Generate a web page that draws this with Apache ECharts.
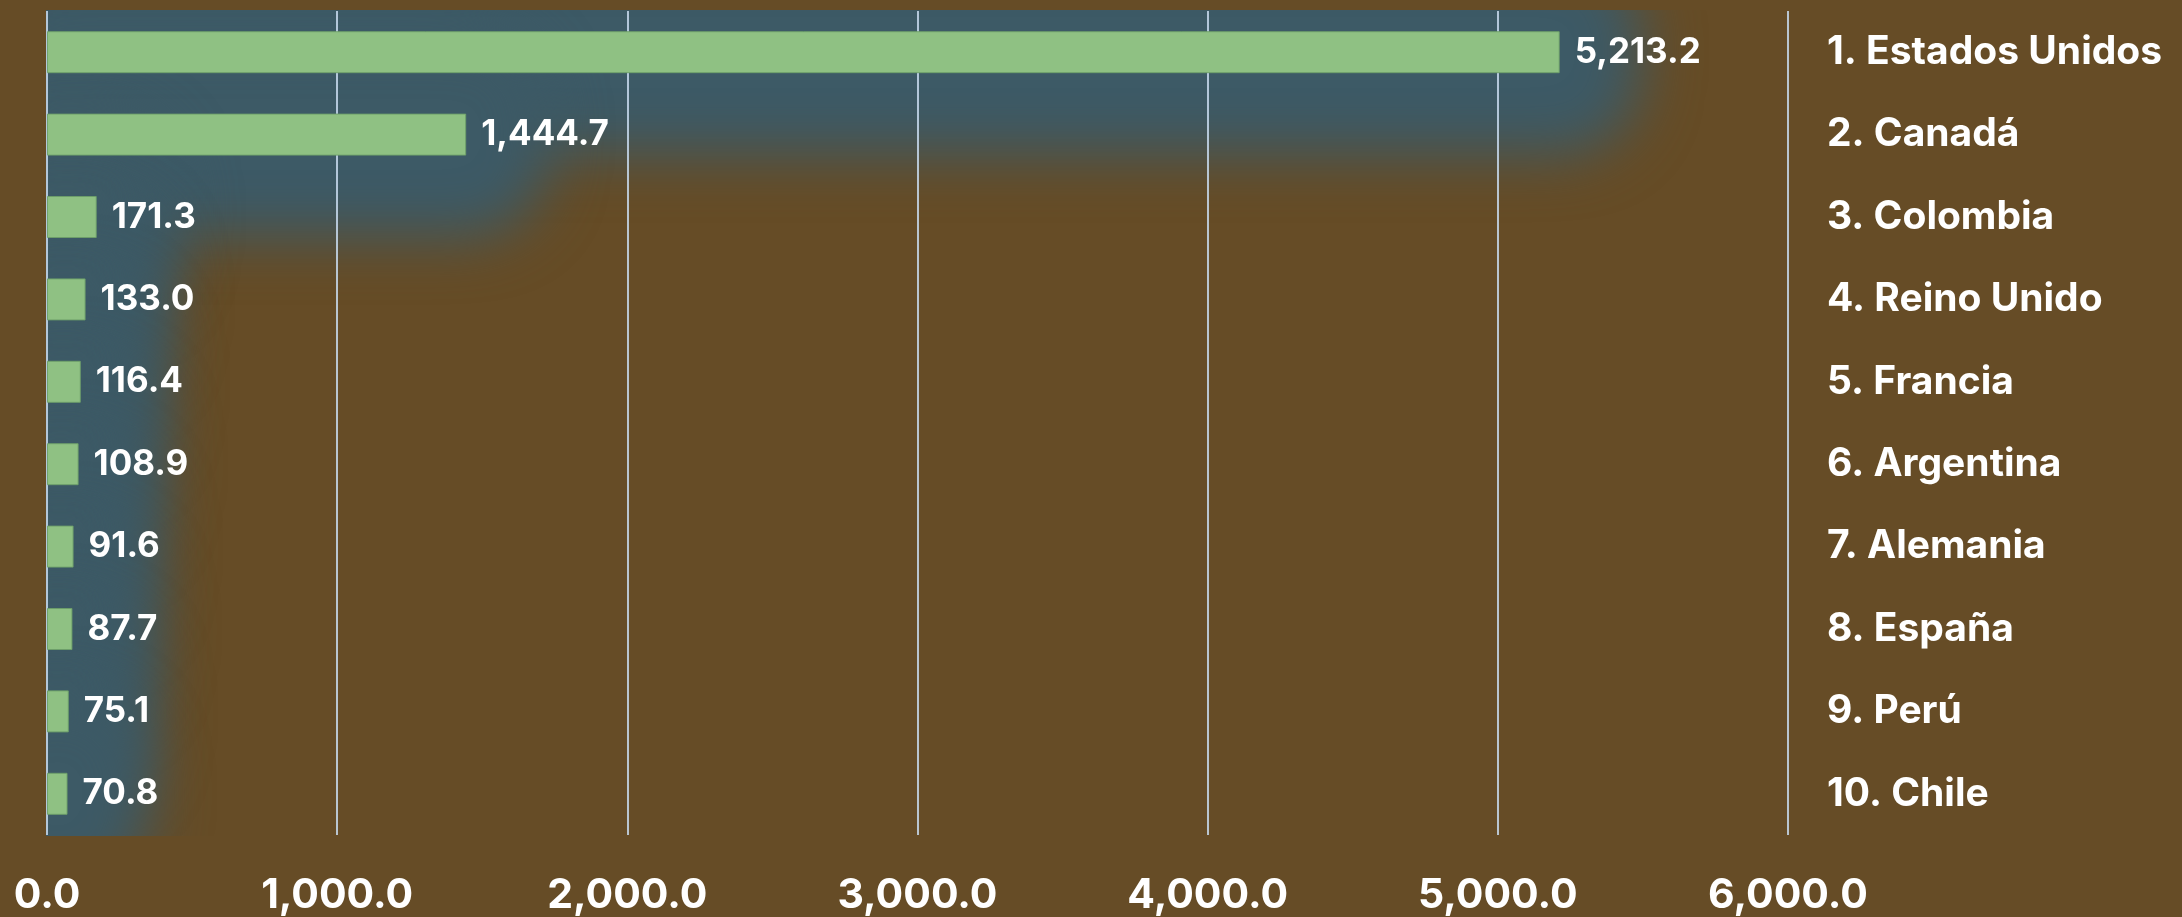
<!DOCTYPE html>
<html>
<head>
<meta charset="utf-8">
<script src="https://cdn.jsdelivr.net/npm/echarts@6/dist/echarts.min.js"></script>
<style>
html,body{margin:0;padding:0;background:#664c26;}
#chart{width:2182px;height:917px;}
</style>
</head>
<body>
<div id="chart"></div>
<script>
const categories = ['1. Estados Unidos','2. Canadá','3. Colombia','4. Reino Unido','5. Francia','6. Argentina','7. Alemania','8. España','9. Perú','10. Chile'];
const values = [5213.2, 1444.7, 171.3, 133.0, 116.4, 108.9, 91.6, 87.7, 75.1, 70.8];
const xTicks = {min: 0, max: 6000, interval: 1000};

const BG = '#664c26';
const GLOW = '#3d5a66';
const BAR = '#8fc183';
const FONT = 'Inter, "Open Sans", "Noto Sans", sans-serif';
const BAR_RATIO = 0.51;

const fmt = v => v.toLocaleString('en-US', {minimumFractionDigits: 1, maximumFractionDigits: 1});

const chart = echarts.init(document.getElementById('chart'));

// soft glow behind each bar, sized from the bar's own scale position
function glowItem(params, api) {
  const cat = api.value(1);
  const start = api.coord([0, cat]);
  const end = api.coord([api.value(0), cat]);
  const band = api.size([0, 1])[1];
  const h = band * BAR_RATIO;
  const PAD = 82, OFF = 5000;
  return {
    type: 'rect',
    shape: {x: start[0] - PAD - OFF, y: start[1] - h / 2 - PAD, width: end[0] - start[0] + 2 * PAD, height: h + 2 * PAD, r: PAD},
    style: {fill: GLOW, shadowBlur: 56, shadowColor: GLOW, shadowOffsetX: OFF}
  };
}

chart.setOption({
  backgroundColor: BG,
  animation: false,
  grid: {left: 47, right: 394, top: 11, bottom: 82, containLabel: false},
  graphic: [
    {type: 'rect', z: 2, silent: true, shape: {x: 0, y: 0, width: 46, height: 917}, style: {fill: BG}},
    {type: 'rect', z: 2, silent: true, shape: {x: 0, y: 0, width: 2182, height: 10}, style: {fill: BG}},
    {type: 'rect', z: 2, silent: true, shape: {x: 0, y: 836, width: 2182, height: 81}, style: {fill: BG}},
    {type: 'rect', z: 2, silent: true, shape: {x: 1790, y: 0, width: 392, height: 917}, style: {fill: BG}}
  ],
  xAxis: {
    type: 'value',
    min: xTicks.min, max: xTicks.max, interval: xTicks.interval,
    z: 3,
    axisLine: {show: false},
    axisTick: {show: false},
    splitLine: {show: true, lineStyle: {color: 'rgba(200,218,238,0.85)', width: 2}},
    axisLabel: {
      color: '#ffffff', fontFamily: FONT, fontWeight: 'bold', fontSize: 41,
      margin: 40,
      formatter: v => fmt(v)
    }
  },
  yAxis: {
    type: 'category',
    data: categories,
    inverse: true,
    position: 'right',
    z: 3,
    axisLine: {show: false},
    axisTick: {show: false},
    splitLine: {show: false},
    axisLabel: {
      color: '#ffffff', fontFamily: FONT, fontWeight: 'bold', fontSize: 39,
      margin: 39, align: 'left'
    }
  },
  series: [
    {
      type: 'custom',
      z: 1,
      silent: true,
      clip: false,
      data: values.map((v, i) => [v, i]),
      encode: {x: 0, y: 1},
      renderItem: glowItem
    },
    {
      type: 'bar',
      data: values,
      barWidth: (BAR_RATIO * 100) + '%',
      z: 4,
      itemStyle: {color: BAR, borderColor: 'rgba(110,160,105,0.9)', borderWidth: 1},
      emphasis: {disabled: true},
      label: {
        show: true, position: 'right', distance: 15,
        color: '#ffffff', fontFamily: FONT, fontWeight: 'bold', fontSize: 35,
        formatter: p => fmt(p.value)
      }
    }
  ]
});
</script>
</body>
</html>
